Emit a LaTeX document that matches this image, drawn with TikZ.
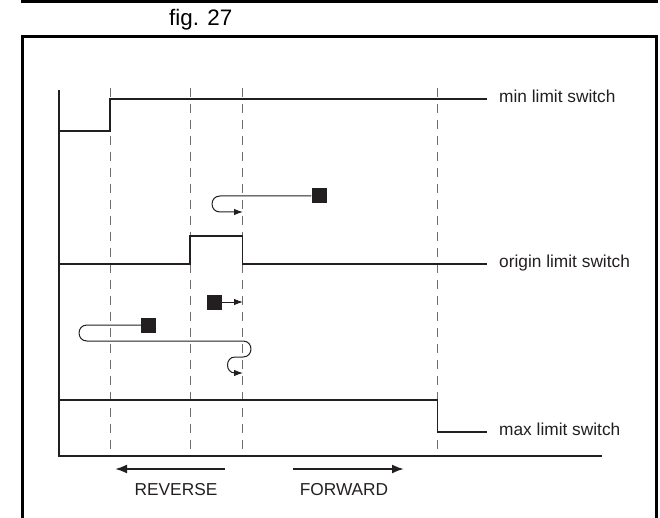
\documentclass[tikz,border=0pt]{standalone}
\usepackage{fontspec}
\setmainfont{Liberation Sans}
\usetikzlibrary{arrows.meta}
\definecolor{ink}{HTML}{231F20}

\begin{document}
\begin{tikzpicture}[x=1pt, y=-1pt, >={Latex[length=9pt,width=6.5pt]},
    trace/.style={ink, line width=1.5pt},
    guide/.style={ink!65, line width=1pt, dash pattern=on 9pt off 7pt},
    blk/.style={fill=ink, minimum size=15pt, inner sep=0pt},
    lbl/.style={anchor=base west, inner sep=0pt, font=\fontsize{17.3}{20}\selectfont, text=ink},
    move/.style={->, ink, line width=1pt},
    dirarrow/.style={ink, line width=2pt, -{Latex[length=12pt,width=9pt]}}]
    \useasboundingbox (0,0) rectangle (660,518);

    % --- frame ---
    \draw[line width=3pt] (22.5,-4) -- (22.5,2) -- (656.5,2) -- (656.5,-4);
    \node[anchor=base west, inner sep=0pt, font=\fontsize{22.4}{26}\selectfont] (fig) at (169,26) {fig. 27};
    \draw[line width=3pt] (22.5,530) -- (22.5,36.5) -- (656.5,36.5) -- (656.5,530);

    % --- guides and axes ---
    \foreach \gx in {110,190,242.5,437.5}
      \draw[guide] (\gx,88) -- (\gx,456);
    \draw[ink, line width=2pt] (58.5,90) -- (58.5,456) -- (602,456);

    % --- switch signals ---
    \draw[trace] (58.5,131) -- (110,131) -- (110,99) -- (487,99);
    \node[lbl] (minsw) at (499,102.5) {min limit switch};

    \draw[trace] (58.5,264) -- (190,264) -- (190,236) -- (242.5,236) -- (242.5,264) -- (487,264);
    \node[lbl] (orgsw) at (499,267.5) {origin limit switch};

    \draw[trace] (58.5,400) -- (437.5,400) -- (437.5,432) -- (487,432);
    \node[lbl] (maxsw) at (499,435.5) {max limit switch};

    % --- homing moves ---
    \node[blk] (sqA) at (319,196) {};
    \draw[move] (sqA.west) -- (220,196) to[out=180, in=180, looseness=1.7] (220,212) -- (243,212);

    \node[blk] (sqB) at (214,302) {};
    \draw[move] (sqB.east) -- (243,302);

    \node[blk] (sqC) at (148.5,325) {};
    \draw[move] (sqC.west) -- (87,325) to[out=180, in=180, looseness=1.7] (87,341)
      -- (243,341) to[out=0, in=0, looseness=1.7] (243,357)
      -- (235,357) to[out=180, in=180, looseness=1.6] (235,373) -- (243,373);

    % --- direction ---
    \coordinate (revA) at (225,469);
    \coordinate (revB) at (115,469);
    \draw[dirarrow] (revA) -- (revB);
    \node[lbl, anchor=base] (rev) at (176,495) {REVERSE};

    \coordinate (fwdA) at (293,469);
    \coordinate (fwdB) at (404,469);
    \draw[dirarrow] (fwdA) -- (fwdB);
    \node[lbl, anchor=base] (fwd) at (344,495) {FORWARD};
\end{tikzpicture}
\end{document}
